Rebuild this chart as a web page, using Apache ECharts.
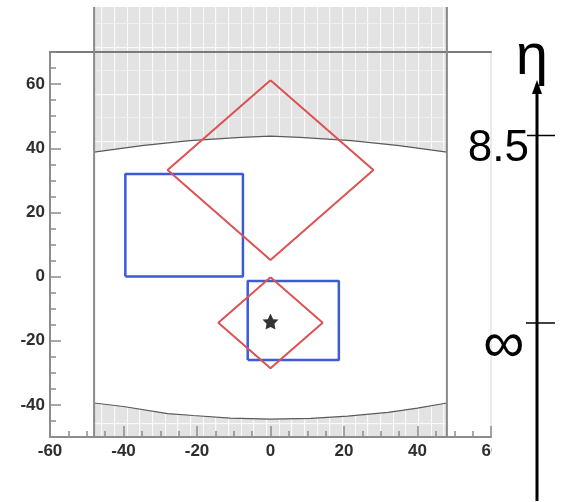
<!DOCTYPE html>
<html>
<head>
<meta charset="utf-8">
<script src="https://cdn.jsdelivr.net/npm/echarts@6/dist/echarts.min.js"></script>
<style>
  html, body { margin: 0; padding: 0; background: #fff; }
  #chart { width: 561px; height: 502px; }
</style>
</head>
<body>
<div id="chart"></div>
<script>
// Axis tick labels
const xTickLabels = [-60, -40, -20, 0, 20, 40, 60];
const yTickLabels = [-40, -20, 0, 20, 40, 60];

// Side walls of the meshed domain and its vertical extent
const wallX = [-48, 48];
const meshTopY = 84;
const floorY = -50;

// Curved inner boundaries of the meshed (hatched) zones
const upperBoundary = [[-48, 38.8], [-35, 40.8], [-22, 42.4], [-8, 43.4], [0, 43.8], [8, 43.4], [22, 42.4], [35, 40.8], [48, 38.8]];
const lowerBoundary = [[-48, -39.4], [-40, -40.5], [-28, -42.7], [-21, -43.3], [-11, -44.1], [0, -44.4], [11, -44.2], [21, -43.5], [32, -42.3], [40, -41.0], [48, -39.4]];

// Outlines: blue boxes and red diamonds
const blueBoxA = [[-39.5, 0], [-7.5, 0], [-7.5, 32], [-39.5, 32], [-39.5, 0]];
const blueBoxB = [[-6.2, -26], [18.6, -26], [18.6, -1.4], [-6.2, -1.4], [-6.2, -26]];
const redDiamondA = [[0, 61.2], [28, 33.2], [0, 5.2], [-28, 33.2], [0, 61.2]];
const redDiamondB = [[0, -0.2], [14.2, -14.4], [0, -28.6], [-14.2, -14.4], [0, -0.2]];
const starPoint = [[0, -14]];

// Side eta scale
const etaTitle = 'η';
const etaTickLabels = ['8.5', '∞'];

// Mesh-like fill: light grey with thin white grid lines
function makeMeshPattern() {
  const c = document.createElement('canvas');
  c.width = 38; c.height = 47;
  const ctx = c.getContext('2d');
  ctx.fillStyle = '#e3e3e3';
  ctx.fillRect(0, 0, c.width, c.height);
  ctx.fillStyle = '#fafafa';
  ctx.fillRect(0, 0, 1.2, c.height);
  ctx.fillRect(13, 0, 1, c.height);
  ctx.fillRect(25, 0, 1.2, c.height);
  ctx.fillRect(0, 0, c.width, 1.2);
  ctx.fillStyle = '#efefef';
  ctx.fillRect(0, 23, c.width, 1);
  return { image: c, repeat: 'repeat' };
}
const meshFill = makeMeshPattern();

const upperZone = [[wallX[0], meshTopY], [wallX[1], meshTopY]].concat(upperBoundary.slice().reverse());
const lowerZone = [[wallX[0], floorY]].concat(lowerBoundary, [[wallX[1], floorY]]);
const zones = [upperZone, lowerZone];

const labelStyle = { color: '#2e2e2e', fontSize: 17, fontWeight: 'bold', fontFamily: '"Liberation Sans", Arial, sans-serif' };
const axisGrey = '#8c8c8c';

const chart = echarts.init(document.getElementById('chart'));

function outline(data, color, width) {
  return {
    type: 'line', data: data, symbol: 'none', z: 4, clip: false,
    lineStyle: { color: color, width: width }, silent: true, animation: false
  };
}

const etaX = 537;
const etaTickY = [135.5, 323];

chart.setOption({
  animation: false,
  grid: { left: 50, right: 70, top: 52, bottom: 65, show: true, borderColor: '#d6d6d6', borderWidth: 1, backgroundColor: 'transparent' },
  xAxis: [
    {
      type: 'value', min: xTickLabels[0], max: xTickLabels[xTickLabels.length - 1], interval: 20, position: 'bottom', z: 3,
      axisLine: { show: true, onZero: false, lineStyle: { color: axisGrey, width: 2 } },
      axisTick: { show: true, inside: true, length: 11, lineStyle: { color: axisGrey, width: 1.5 } },
      minorTick: { show: true, splitNumber: 4, length: 6, lineStyle: { color: axisGrey, width: 1.5 } },
      splitLine: { show: false },
      axisLabel: Object.assign({ margin: 6 }, labelStyle)
    },
    {
      type: 'value', min: -60, max: 60, position: 'top', z: 3,
      axisLine: { show: true, onZero: false, lineStyle: { color: '#7a7a7a', width: 2 } },
      axisTick: { show: false }, axisLabel: { show: false }, splitLine: { show: false }
    }
  ],
  yAxis: [
    {
      type: 'value', min: floorY, max: 70, interval: 5, position: 'left', z: 3,
      axisLine: { show: true, onZero: false, lineStyle: { color: axisGrey, width: 2 } },
      axisTick: { show: true, inside: true, length: 6, lineStyle: { color: axisGrey, width: 1.5 } },
      axisLabel: { show: false },
      splitLine: { show: false }
    },
    {
      type: 'value', min: floorY, max: 70, position: 'left', offset: 0, z: 3,
      axisLine: { show: true, onZero: false, lineStyle: { color: 'rgba(0,0,0,0)', width: 0 } },
      axisTick: { show: true, inside: true, length: 11, customValues: yTickLabels, lineStyle: { color: axisGrey, width: 1.5 } },
      axisLabel: Object.assign({ margin: 5, customValues: yTickLabels }, labelStyle),
      splitLine: { show: false }
    }
  ],
  series: [
    {
      type: 'custom', z: 1, silent: true, clip: false,
      data: zones.map(function (z) { return z[0]; }),
      renderItem: function (params, api) {
        const pts = zones[params.dataIndex].map(function (p) { return api.coord(p); });
        return { type: 'polygon', shape: { points: pts }, style: { fill: meshFill, stroke: null } };
      }
    },
    outline(upperBoundary, '#5a5a5a', 1.2),
    outline(lowerBoundary, '#5a5a5a', 1.2),
    outline([[wallX[0], floorY], [wallX[0], meshTopY]], '#8a8a8a', 2),
    outline([[wallX[1], floorY], [wallX[1], meshTopY]], '#8a8a8a', 2),
    outline(blueBoxA, '#3d5bd6', 2.5),
    outline(blueBoxB, '#3d5bd6', 2.5),
    outline(redDiamondA, '#dc5252', 2),
    outline(redDiamondB, '#dc5252', 2),
    {
      type: 'scatter', data: starPoint, symbol: 'path://M0,-10 L3.2,-3.6 L9.51,-3.09 L4.7,1.7 L5.88,8.09 L0,5.2 L-5.88,8.09 L-4.7,1.7 L-9.51,-3.09 L-3.2,-3.6 Z',
      symbolSize: 16, itemStyle: { color: '#000' }, z: 5, silent: true
    }
  ],
  graphic: [
    { type: 'rect', z: 50, shape: { x: 492, y: 0, width: 69, height: 502 }, style: { fill: '#fff' }, silent: true },
    { type: 'line', z: 51, shape: { x1: etaX, y1: 90, x2: etaX, y2: 501 }, style: { stroke: '#000', lineWidth: 3 } },
    { type: 'polygon', z: 51, shape: { points: [[etaX, 80], [etaX - 5, 94], [etaX + 5, 94]] }, style: { fill: '#000' } },
    { type: 'line', z: 51, shape: { x1: 527, y1: etaTickY[0], x2: 555, y2: etaTickY[0] }, style: { stroke: '#000', lineWidth: 1.5 } },
    { type: 'line', z: 51, shape: { x1: 526, y1: etaTickY[1], x2: 555, y2: etaTickY[1] }, style: { stroke: '#000', lineWidth: 1.5 } },
    { type: 'text', z: 51, style: { text: etaTickLabels[0], x: 529, y: 149, align: 'right', verticalAlign: 'middle', fontSize: 44, fontFamily: '"Liberation Sans", Arial, sans-serif', fill: '#000' } },
    { type: 'text', z: 51, style: { text: etaTickLabels[1], x: 504, y: 346, align: 'center', verticalAlign: 'middle', fontSize: 58, fontFamily: '"Liberation Sans", Arial, sans-serif', fill: '#000' } },
    { type: 'text', z: 51, style: { text: etaTitle, x: 532, y: 58, align: 'center', verticalAlign: 'middle', fontSize: 58, fontFamily: '"Liberation Sans", Arial, sans-serif', fill: '#000' } }
  ]
});
</script>
</body>
</html>
